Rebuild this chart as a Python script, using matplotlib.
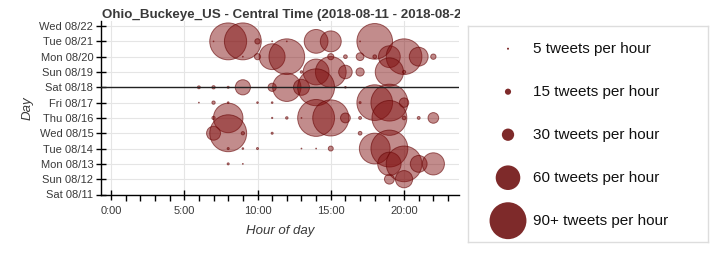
import matplotlib
matplotlib.use("Agg")
import matplotlib.pyplot as plt
from matplotlib.transforms import Bbox, TransformedBbox
import numpy as np

plt.rcParams['font.family'] = ['Liberation Sans', 'DejaVu Sans']

# ---------------- data ----------------
day_labels = ["Sat 08/11", "Sun 08/12", "Mon 08/13", "Tue 08/14", "Wed 08/15",
              "Thu 08/16", "Fri 08/17", "Sat 08/18", "Sun 08/19", "Mon 08/20",
              "Tue 08/21", "Wed 08/22"]
hour_ticks = [0, 5, 10, 15, 20]
hour_tick_labels = ["0:00", "5:00", "10:00", "15:00", "20:00"]

point_day = (["Tue 08/21"] * 10 + ["Mon 08/20"] * 12 + ["Sun 08/19"] * 7 +
             ["Sat 08/18"] * 9 + ["Fri 08/17"] * 9 + ["Thu 08/16"] * 13 +
             ["Wed 08/15"] * 5 + ["Tue 08/14"] * 8 + ["Mon 08/13"] * 6 +
             ["Sun 08/12"] * 2)
point_hour = [7, 8, 9, 10, 11, 12, 14, 15, 17, 18,
              9, 10, 11, 12, 15, 16, 17, 18, 19, 20, 21, 22,
              13, 14, 15, 16, 17, 19, 20,
              6, 7, 8, 9, 11, 12, 13, 14, 16,
              6, 7, 8, 10, 11, 17, 18, 19, 20,
              7, 8, 11, 12, 13, 14, 15, 16, 17, 19, 20, 21, 22,
              7, 8, 9, 11, 17,
              8, 9, 10, 13, 14, 15, 18, 19,
              8, 9, 19, 20, 21, 22,
              19, 20]
point_count = [2, 90, 90, 13, 2, 2, 58, 51, 2, 87,
               2, 15, 63, 87, 15, 9, 19, 9, 53, 87, 46, 13,
               6, 63, 75, 33, 20, 69, 8,
               7, 8, 5, 37, 20, 69, 39, 90, 4,
               2, 8, 4, 4, 4, 5, 87, 90, 23,
               8, 72, 3, 6, 2, 90, 88, 24, 7, 85, 9, 7, 26,
               34, 90, 8, 5, 9,
               5, 4, 5, 2, 2, 12, 75, 90,
               5, 2, 57, 87, 41, 54,
               24, 42]
highlight_day = "Sat 08/18"

legend_counts = [5, 15, 30, 60, 90]
legend_labels = ["5 tweets per hour", "15 tweets per hour", "30 tweets per hour",
                 "60 tweets per hour", "90+ tweets per hour"]

title = "Ohio_Buckeye_US - Central Time (2018-08-11 - 2018-08-22)"

# ---------------- figure ----------------
W, H, DPI = 724, 264, 100
fig = plt.figure(figsize=(W / DPI, H / DPI), dpi=DPI)

def px_size(counts):
    d_px = 0.41 * np.minimum(np.asarray(counts, float), 90)
    return (d_px * 72.0 / DPI) ** 2

ax = fig.add_axes([101 / W, 1 - 194.5 / H, (459 - 101) / W, (194.5 - 21) / H])

y_vals = [day_labels.index(d) for d in point_day]
fill = (0.50, 0.06, 0.06, 0.48)
edge = (0.40, 0.02, 0.02, 0.6)
ax.scatter(point_hour, y_vals, s=px_size(point_count), c=[fill],
           edgecolors=[edge], linewidths=0.7, zorder=3, clip_on=False)

ax.axhline(day_labels.index(highlight_day), color="#222222", lw=1.0, zorder=4)

ax.set_xlim(-0.68, 23.75)
ax.set_ylim(0, 11.33)
ax.set_yticks(range(len(day_labels)))
ax.set_yticklabels(day_labels)
ax.set_xticks(hour_ticks)
ax.set_xticklabels(hour_tick_labels)
ax.set_xticks(range(0, 24), minor=True)

ax.grid(True, which="major", color="#e5e5e5", lw=0.8, zorder=0)
ax.set_axisbelow(True)
for s in ["top", "right"]:
    ax.spines[s].set_visible(False)
for s in ["left", "bottom"]:
    ax.spines[s].set_color("black")
    ax.spines[s].set_linewidth(1.0)

ax.tick_params(axis="both", which="major", direction="inout", length=7,
               width=1, colors="black", labelcolor="#3a3a3a", labelsize=8)
ax.tick_params(axis="x", which="minor", direction="out", length=4, width=1,
               colors="black")
ax.tick_params(axis="x", which="major", pad=5)
ax.tick_params(axis="y", which="major", pad=2)

ax.set_xlabel("Hour of day", fontstyle="italic", fontsize=9.5, color="#3a3a3a",
              labelpad=6)
ax.set_ylabel("Day", fontstyle="italic", fontsize=9.5, color="#3a3a3a",
              labelpad=4)

t = fig.text(102 / W, 1 - 15 / H, title, fontsize=9.6, fontweight="bold",
             color="#3a3a3a", ha="left", va="center")
t.set_clip_box(TransformedBbox(Bbox([[0, 0], [460 / W, 1]]), fig.transFigure))
t.set_clip_on(True)

# ---------------- legend ----------------
lax = fig.add_axes([468 / W, 1 - 242 / H, 240 / W, 216 / H])
lax.set_xlim(0, 240)
lax.set_ylim(216, 0)
lax.set_xticks([])
lax.set_yticks([])
for s in lax.spines.values():
    s.set_color("#dddddd")
    s.set_linewidth(1.0)
ly = 22.7 + 43.0 * np.arange(len(legend_counts))
lax.scatter([40] * len(legend_counts), ly, s=px_size(legend_counts),
            color="#7e2a2a", edgecolors="none", clip_on=False)
for yy, lab in zip(ly, legend_labels):
    lax.text(65, yy, lab, fontsize=11, color="#111111", va="center", ha="left")

fig.savefig("out.png", dpi=DPI)
